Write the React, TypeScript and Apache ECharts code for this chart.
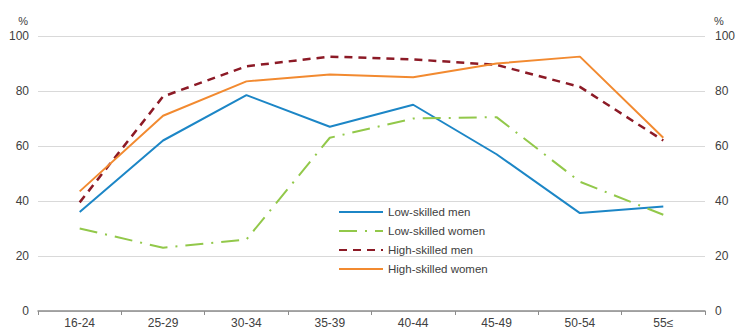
import React, { useEffect, useRef } from "react";
import * as echarts from "echarts";

const categories = ["16-24", "25-29", "30-34", "35-39", "40-44", "45-49", "50-54", "55≤"];
const lowSkilledMen = [36, 62, 78.5, 67, 75, 57, 35.6, 38];
const lowSkilledWomen = [30, 23, 26, 63, 70, 70.5, 47, 35];
const highSkilledMen = [39.5, 78, 89, 92.5, 91.5, 89.5, 81.5, 62];
const highSkilledWomen = [43.5, 71, 83.5, 86, 85, 90, 92.5, 63];
const yTicks = [0, 20, 40, 60, 80, 100];

export default function App() {
  const ref = useRef<HTMLDivElement>(null);
  useEffect(() => {
    const chart = echarts.init(ref.current!, null, { renderer: "svg" });
    const labelStyle = { color: "#404040", fontSize: 12, fontFamily: "Liberation Sans, Arial, sans-serif" };
    const yAxisBase = {
      type: "value" as const,
      min: yTicks[0],
      max: yTicks[yTicks.length - 1],
      interval: 20,
      axisLine: { show: false },
      axisTick: { show: false },
      splitLine: { show: true, lineStyle: { color: "#d9d9d9", width: 1 } },
      name: "%",
      nameGap: 10,
    };
    chart.setOption({
      animation: false,
      backgroundColor: "#ffffff",
      grid: { left: 38, right: 30, top: 36, bottom: 18, containLabel: false },
      legend: {
        orient: "vertical",
        left: 333,
        top: 201,
        itemWidth: 44,
        itemHeight: 12,
        itemGap: 7,
        itemStyle: { opacity: 0 },
        textStyle: { color: "#404040", fontSize: 11.5, fontFamily: "Liberation Sans, Arial, sans-serif" },
        data: ["Low-skilled men", "Low-skilled women", "High-skilled men", "High-skilled women"],
      },
      xAxis: {
        type: "category",
        data: categories,
        boundaryGap: true,
        axisLine: { show: true, lineStyle: { color: "#8c8c8c", width: 1.5 } },
        axisTick: { show: true, length: 4, lineStyle: { color: "#8c8c8c" } },
        axisLabel: { ...labelStyle, margin: 6 },
      },
      yAxis: [
        { ...yAxisBase, position: "left", nameTextStyle: { ...labelStyle, fontSize: 11, align: "right", padding: [0, 10, 0, 0] }, axisLabel: { ...labelStyle, margin: 9 } },
        { ...yAxisBase, position: "right", nameTextStyle: { ...labelStyle, fontSize: 11, align: "left", padding: [0, 0, 0, 9] }, axisLabel: { ...labelStyle, margin: 10 } },
      ],
      series: [
        {
          name: "Low-skilled men",
          type: "line",
          data: lowSkilledMen,
          symbol: "none",
          itemStyle: { color: "#1c86c6" },
          lineStyle: { color: "#1c86c6", width: 2 },
        },
        {
          name: "Low-skilled women",
          type: "line",
          data: lowSkilledWomen,
          symbol: "none",
          itemStyle: { color: "#92c84a" },
          lineStyle: { color: "#92c84a", width: 2, type: [18, 8, 2, 8] },
        },
        {
          name: "High-skilled men",
          type: "line",
          data: highSkilledMen,
          symbol: "none",
          itemStyle: { color: "#8c1a26" },
          lineStyle: { color: "#8c1a26", width: 2.5, type: [8, 6] },
        },
        {
          name: "High-skilled women",
          type: "line",
          data: highSkilledWomen,
          symbol: "none",
          itemStyle: { color: "#f28a30" },
          lineStyle: { color: "#f28a30", width: 2 },
        },
      ],
    });
    return () => chart.dispose();
  }, []);
  return <div ref={ref} style={{ width: 738, height: 329, position: "absolute", left: 0, top: 0 }} />;
}
